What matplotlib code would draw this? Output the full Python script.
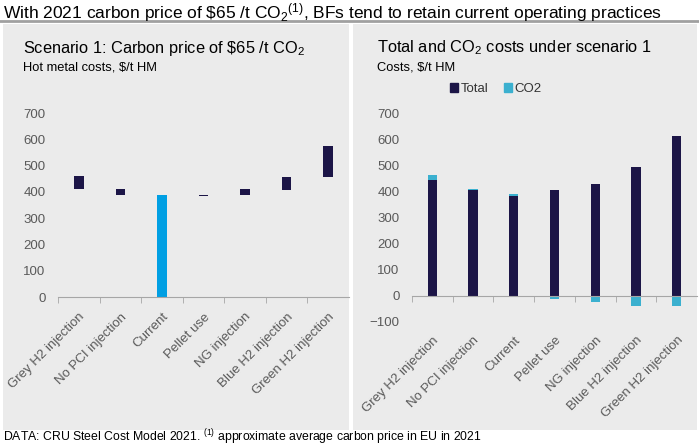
import matplotlib
matplotlib.use("Agg")
import matplotlib.pyplot as plt
from matplotlib.patches import Rectangle, Patch
import numpy as np

plt.rcParams['font.family'] = ['Liberation Sans', 'DejaVu Sans']
plt.rcParams['mathtext.fontset'] = 'custom'
plt.rcParams['mathtext.rm'] = 'Liberation Sans'
plt.rcParams['mathtext.it'] = 'Liberation Sans:italic'
plt.rcParams['mathtext.bf'] = 'Liberation Sans:bold'

# data
categories = ["Grey H2 injection", "No PCI injection", "Current", "Pellet use",
              "NG injection", "Blue H2 injection", "Green H2 injection"]
# scenario 1 floating bars (low / high), $/t HM
s1_low = [412, 387, 0, 383, 387, 408, 458]
s1_high = [462, 412, 387, 388, 410, 457, 573]
# total and CO2 costs
total = [442, 404, 382, 404, 430, 494, 612]
co2 = [19, 6, 8, -12, -22, -37, -39]

NAVY = "#1c1547"
BLUE = "#009fe3"
TEAL = "#3bb0cf"
PANEL = "#ebebeb"
GREY_TXT = "#595959"
AXIS = "#a6a6a6"

W, H = 699, 447
fig = plt.figure(figsize=(W / 100, H / 100), dpi=100)


def fx(px):
    return px / W


def fy(py):
    return 1 - py / H


# panels
fig.patches.append(Rectangle((fx(3), fy(430)), fx(346), 406 / H,
                             transform=fig.transFigure, facecolor=PANEL, edgecolor="none", zorder=-5))
fig.patches.append(Rectangle((fx(353), fy(430)), fx(344), 406 / H,
                             transform=fig.transFigure, facecolor=PANEL, edgecolor="none", zorder=-5))
fig.add_artist(plt.Line2D([0, 1], [fy(20.5), fy(20.5)], transform=fig.transFigure,
                          color="#a0a0a0", lw=2))

fig.text(fx(3), fy(18), r"With 2021 carbon price of \$65 /t CO$_2$$^{(1)}$, BFs tend to retain current operating practices",
         fontsize=12.5, va="baseline", ha="left")
fig.text(fx(3), fy(441), r"DATA: CRU Steel Cost Model 2021. $^{(1)}$ approximate average carbon price in EU in 2021",
         fontsize=8.8, va="baseline", ha="left")

fig.text(fx(23), fy(48), r"Scenario 1: Carbon price of \$65 /t CO$_2$", fontsize=11.8, va="center")
fig.text(fx(23), fy(67), r"Hot metal costs, \$/t HM", fontsize=9.3, va="center")
fig.text(fx(377), fy(48), r"Total and CO$_2$ costs under scenario 1", fontsize=11.8, va="center")
fig.text(fx(377), fy(67), r"Costs, \$/t HM", fontsize=9.3, va="center")

x = np.arange(len(categories))
bw = 0.23


def style_axis(ax, pad_pts):
    ax.set_facecolor("none")
    ax.set_zorder(2)
    for s in ["top", "right", "left"]:
        ax.spines[s].set_visible(False)
    ax.spines["bottom"].set_position(("data", 0))
    ax.spines["bottom"].set_color(AXIS)
    ax.set_xlim(-0.5, len(categories) - 0.5)
    ax.set_xticks(x)
    ax.set_xticklabels(categories, rotation=45, ha="right", va="top", rotation_mode="anchor")
    ax.set_xticks(np.arange(len(categories)) - 0.5, minor=True)
    ax.tick_params(axis="x", which="major", length=0, pad=pad_pts, labelsize=9.5, labelcolor=GREY_TXT)
    ax.tick_params(axis="x", which="minor", length=4, color=AXIS, direction="out")
    ax.tick_params(axis="y", length=0, pad=9, labelsize=9.5, labelcolor=GREY_TXT)


# left chart
ax1 = fig.add_axes([fx(58), fy(297), fx(291), (297 - 113) / H])
heights = np.array(s1_high) - np.array(s1_low)
colors1 = [BLUE if c == "Current" else NAVY for c in categories]
ax1.bar(x, heights, bw, bottom=s1_low, color=colors1)
ax1.set_ylim(0, 700)
ax1.set_yticks(range(0, 701, 100))
style_axis(ax1, 10)

# right chart
ax2 = fig.add_axes([fx(412), fy(322), fx(285), (322 - 113) / H])
co2_arr = np.array(co2)
ax2.bar(x, total, bw, color=NAVY, label="Total")
ax2.bar(x, co2_arr, bw, bottom=np.where(co2_arr > 0, total, 0), color=TEAL, label="CO2")
ax2.set_ylim(-100, 700)
ax2.set_yticks(range(-100, 701, 100))
style_axis(ax2, 27.6)

fig.legend(handles=[Patch(color=NAVY, label="Total"), Patch(color=TEAL, label="CO2")],
           loc="center left", bbox_to_anchor=(fx(438), fy(89)), ncol=2, frameon=False,
           fontsize=9.5, handlelength=0.6, handleheight=0.6, handletextpad=0.2,
           columnspacing=1.2, labelcolor="#333333")

fig.savefig("out.png", dpi=100)
